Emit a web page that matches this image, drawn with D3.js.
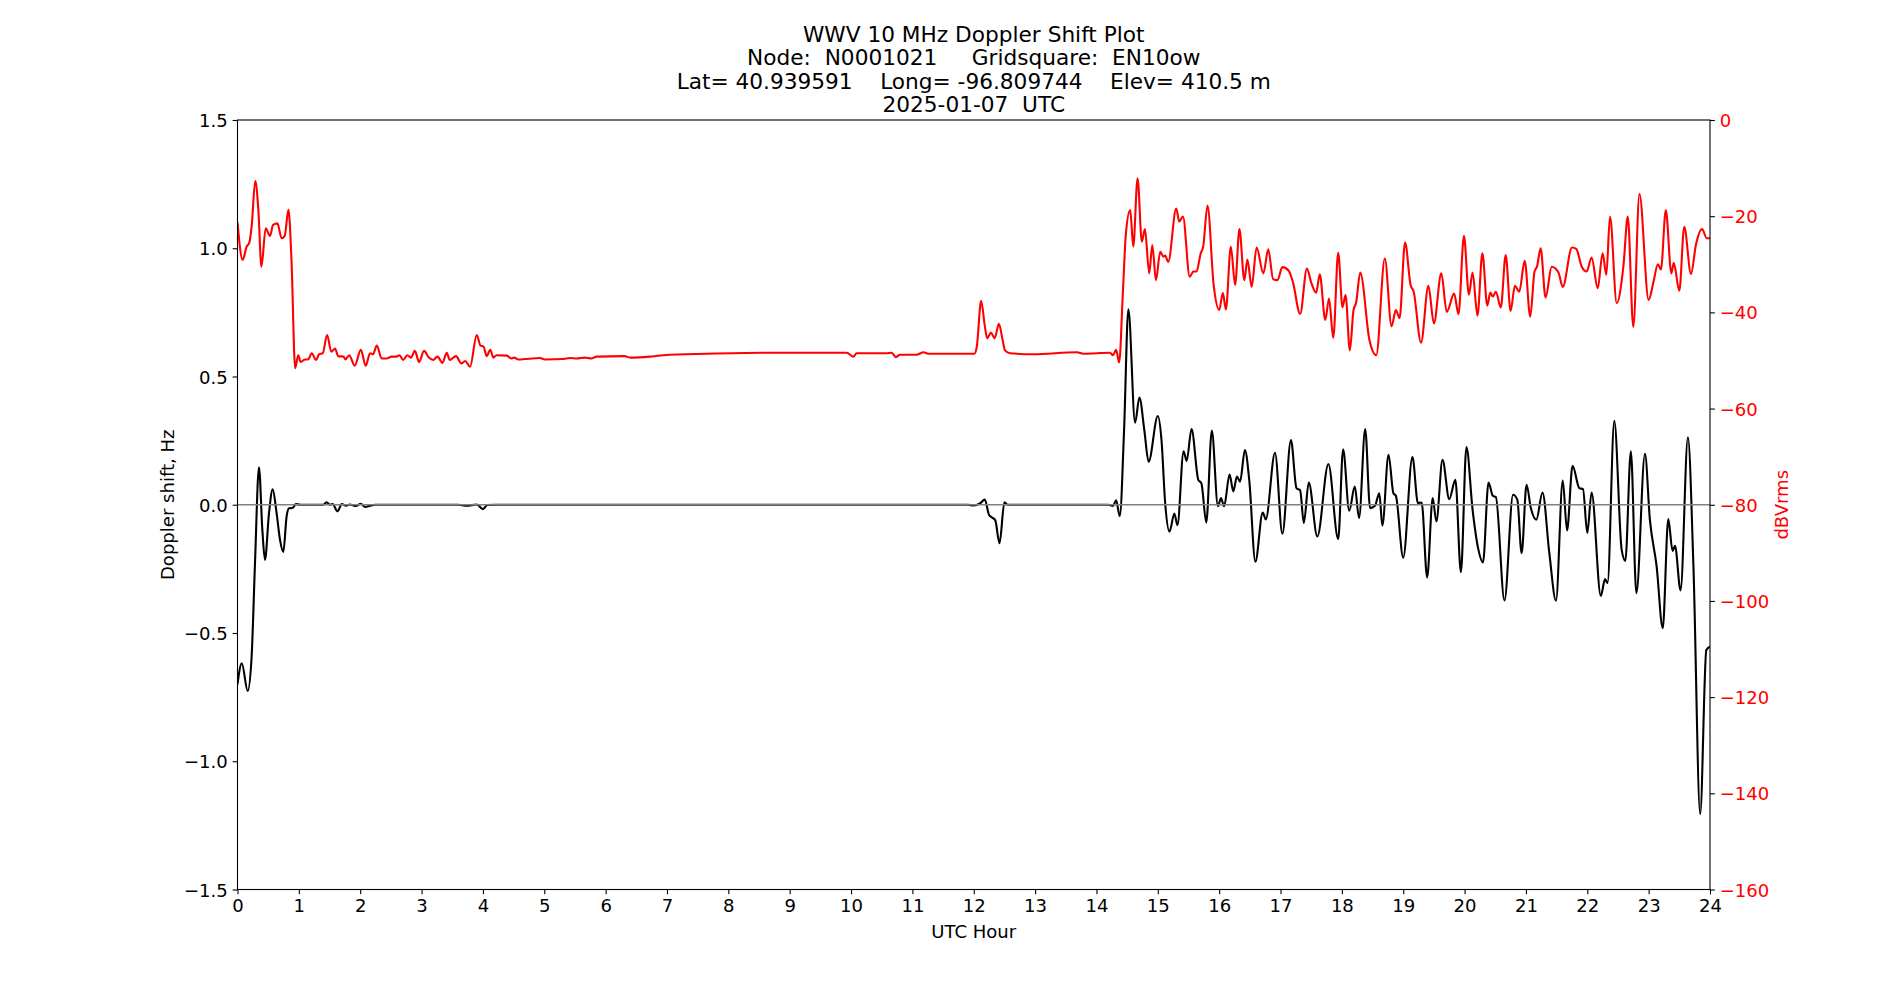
<!DOCTYPE html>
<html>
<head>
<meta charset="utf-8">
<script src="https://cdn.jsdelivr.net/npm/d3@7"></script>
<style>
  html, body { margin: 0; padding: 0; background: #fff; }
  svg { display: block; font-family: "DejaVu Sans", sans-serif; }
</style>
</head>
<body>
<svg id="chart" width="1900" height="1000"></svg>
<script>
// ---------------- data ----------------
const titleLines = [
  "WWV 10 MHz Doppler Shift Plot",
  "Node:  N0001021     Gridsquare:  EN10ow",
  "Lat= 40.939591    Long= -96.809744    Elev= 410.5 m",
  "2025-01-07  UTC"
];
const xTicks = d3.range(0, 25, 1);
const leftTicks = [-1.5, -1.0, -0.5, 0.0, 0.5, 1.0, 1.5];
const rightTicks = [0, -20, -40, -60, -80, -100, -120, -140, -160];

// Doppler shift (Hz) vs UTC hour
const dopplerHours = [0.0,0.07,0.166,0.23,0.285,0.35,0.405,0.448,0.513,0.573,0.638,0.693,0.747,0.80,0.84,0.90,0.953,1.02,
  1.40,1.45,1.51,1.55,1.63,1.70,1.77,1.83,1.93,2.01,2.08,2.16,2.24,3.6,3.73,3.90,4.0,4.07,4.2,
  11.9,12.0,12.1,12.18,12.25,12.3,12.35,12.42,12.5,12.55,
  14.19,14.27,14.32,14.38,14.45,14.52,14.63,14.70,14.78,14.85,15.00,15.06,15.12,15.19,15.27,15.32,15.42,15.47,15.55,
  15.66,15.71,15.79,15.88,15.98,16.03,16.08,16.17,16.23,16.29,16.34,16.42,16.49,16.59,16.71,16.76,16.91,17.03,17.17,
  17.26,17.32,17.38,17.46,17.60,17.78,17.94,18.02,18.12,18.21,18.28,18.38,18.46,18.54,18.61,18.66,18.76,18.84,18.88,
  19.0,19.15,19.24,19.30,19.39,19.48,19.54,19.64,19.75,19.85,19.94,20.03,20.13,20.22,20.30,20.39,20.46,20.51,20.65,
  20.79,20.86,20.93,21.01,21.08,21.17,21.27,21.38,21.49,21.60,21.67,21.76,21.87,21.93,22.0,22.07,22.22,22.29,22.33,
  22.44,22.56,22.62,22.71,22.80,22.94,23.02,23.13,23.23,23.32,23.39,23.43,23.52,23.64,23.73,23.84,23.94,24.0];
const dopplerHz = [-0.70,-0.618,-0.726,-0.593,-0.229,0.146,-0.098,-0.215,-0.034,0.060,-0.034,-0.137,-0.184,-0.046,-0.014,-0.012,0.003,0,
  0,0.01,0,0.003,-0.026,0.003,-0.004,0.001,-0.005,0.004,-0.009,-0.004,0,0,-0.004,0.001,-0.017,-0.001,0,
  0,-0.003,0.005,0.02,-0.04,-0.05,-0.06,-0.15,0.01,0,
  0,-0.005,0.017,-0.044,0.29,0.762,0.32,0.418,0.291,0.168,0.346,0.252,0.006,-0.105,-0.034,-0.08,0.208,0.171,0.295,
  0.097,0.084,-0.069,0.289,-0.006,0.026,-0.006,0.118,0.052,0.11,0.090,0.213,0.097,-0.222,-0.03,-0.057,0.203,-0.113,0.252,
  0.065,0.056,-0.071,0.087,-0.124,0.159,-0.134,0.216,-0.023,0.071,-0.052,0.295,-0.013,-0.004,0.045,-0.081,0.195,0.045,0.035,
  -0.206,0.186,0.006,0.009,-0.283,0.026,-0.065,0.175,0.022,0.097,-0.263,0.225,-0.019,-0.169,-0.225,0.087,0.035,0.03,-0.373,
  0.039,0.019,-0.189,0.078,-0.013,-0.058,0.048,-0.186,-0.374,0.094,-0.1,0.152,0.065,0.061,-0.11,0.048,-0.355,-0.29,-0.305,
  0.327,-0.175,-0.219,0.208,-0.345,0.199,-0.058,-0.24,-0.481,-0.056,-0.18,-0.16,-0.334,0.263,-0.24,-1.206,-0.566,-0.553];

// Signal level (dBVrms) vs UTC hour
const levelHours = [0.0,0.084,0.15,0.19,0.23,0.29,0.34,0.39,0.46,0.53,0.58,0.65,0.72,0.77,0.83,0.88,0.94,0.99,1.03,1.10,1.15,
  1.21,1.28,1.33,1.39,1.46,1.53,1.59,1.64,1.73,1.76,1.82,1.91,2.01,2.09,2.16,2.21,2.27,2.35,2.43,2.51,2.59,2.64,2.70,2.77,
  2.83,2.89,2.96,3.04,3.12,3.19,3.26,3.34,3.41,3.46,3.56,3.65,3.71,3.79,3.90,3.96,4.01,4.06,4.12,4.17,4.22,4.39,4.46,4.51,
  4.58,4.93,5.01,5.31,5.42,5.53,5.66,5.77,5.85,6.31,6.40,6.72,6.94,7.65,8.57,9.93,10.04,10.09,10.58,10.66,10.73,10.80,
  11.07,11.18,11.26,11.94,12.01,12.05,12.12,12.18,12.22,12.28,12.34,12.41,12.47,12.51,12.59,12.97,13.68,13.79,14.22,14.27,
  14.32,14.37,14.43,14.48,14.55,14.60,14.67,14.74,14.79,14.86,14.91,14.97,15.04,15.09,15.12,15.17,15.30,15.35,15.41,15.52,
  15.58,15.63,15.70,15.74,15.81,15.91,16.00,16.06,16.11,16.19,16.26,16.33,16.41,16.46,16.53,16.61,16.72,16.80,16.88,16.95,
  17.03,17.13,17.20,17.32,17.43,17.50,17.58,17.64,17.73,17.79,17.86,17.94,18.01,18.06,18.13,18.19,18.23,18.30,18.45,18.56,
  18.70,18.81,18.88,18.94,19.03,19.12,19.17,19.29,19.41,19.50,19.62,19.71,19.83,19.90,19.99,20.07,20.13,20.21,20.29,20.37,
  20.42,20.46,20.51,20.59,20.67,20.75,20.82,20.89,20.98,21.07,21.14,21.18,21.24,21.32,21.42,21.53,21.60,21.75,21.82,21.91,
  21.99,22.07,22.17,22.25,22.31,22.37,22.48,22.59,22.66,22.75,22.85,23.00,23.08,23.15,23.20,23.28,23.37,23.41,23.50,23.58,
  23.69,23.77,23.87,23.95,24.0];
const levelDb = [-21.3,-29.1,-26.3,-25.6,-22.2,-12.7,-18.7,-30.5,-22.5,-24.1,-21.8,-21.5,-24.6,-24.1,-18.6,-29.1,-51.6,-48.9,-50.3,-49.8,-49.8,
  -48.5,-49.9,-48.7,-48.5,-44.7,-48.2,-47.5,-49.1,-49.2,-49.8,-48.9,-51.1,-47.8,-51.1,-48.5,-48.7,-46.9,-49.6,-49.6,-49.2,-49.2,-48.9,-49.9,-48.9,
  -49.4,-48.0,-50.3,-48.0,-49.4,-49.9,-49.2,-50.5,-48.4,-49.9,-49.1,-50.6,-50.1,-51.3,-44.7,-46.9,-47.1,-49.1,-47.8,-49.4,-48.9,-49.0,-49.6,-49.4,
  -49.8,-49.5,-49.8,-49.7,-49.5,-49.6,-49.4,-49.6,-49.2,-49.1,-49.4,-49.2,-48.9,-48.6,-48.4,-48.4,-49.2,-48.5,-48.5,-48.4,-49.3,-48.8,
  -48.8,-48.3,-48.6,-48.6,-48.6,-47.1,-37.6,-42.8,-45.4,-44.2,-45.4,-42.4,-45.7,-47.9,-48.5,-48.7,-48.3,-48.6,-48.4,-48.9,
  -47.8,-50.4,-36.0,-23.6,-18.7,-26.3,-12.1,-25.3,-22.7,-31.9,-26.0,-33.3,-27.4,-28.4,-28.2,-29.5,-18.4,-21.1,-20.1,-32.6,
  -31.5,-31.5,-27.7,-26.3,-17.8,-34.3,-39.5,-36.0,-39.4,-26.3,-34.3,-22.7,-33.3,-29.0,-34.7,-26.5,-31.9,-26.9,-33.1,-33.3,
  -30.6,-31.3,-33.6,-40.3,-30.9,-33.8,-35.9,-32.1,-41.6,-37.1,-45.3,-27.6,-38.9,-36.4,-47.9,-39.5,-38.1,-31.7,-45.8,-48.9,
  -28.8,-42.9,-39.5,-41.2,-25.5,-34.3,-35.7,-46.3,-34.5,-42.3,-31.9,-39.9,-36.1,-40.4,-24.1,-36.3,-31.7,-40.7,-27.7,-38.6,
  -35.9,-36.7,-35.7,-39.0,-28.1,-39.7,-34.5,-35.7,-29.3,-40.9,-31.5,-30.5,-26.7,-36.9,-30.5,-31.7,-34.7,-26.5,-26.8,-30.5,
  -31.5,-28.6,-35.0,-27.7,-32.2,-20.1,-38.1,-30.2,-20.1,-43.0,-15.4,-37.4,-33.6,-30.0,-31.1,-18.7,-31.9,-29.7,-35.5,-22.2,
  -32.0,-26.0,-22.7,-24.6,-24.6];

// ---------------- layout ----------------
const W = 1900, H = 1000;
const M = { left: 237.5, right: 1710, top: 120, bottom: 889.5 };
const svg = d3.select("#chart");
const FONT = "DejaVu Sans, sans-serif";
const tickFs = 18.06, labelFs = 18.06, titleFs = 21.67;

const x = d3.scaleLinear().domain([0, 24]).range([M.left, M.right]);
const yL = d3.scaleLinear().domain([-1.5, 1.5]).range([M.bottom, M.top]);
const yR = d3.scaleLinear().domain([-160, 0]).range([M.bottom, M.top]);

const fmtMinus = s => s.replace("-", "\u2212");

// clip
svg.append("defs").append("clipPath").attr("id", "clip")
  .append("rect").attr("x", M.left).attr("y", M.top)
  .attr("width", M.right - M.left).attr("height", M.bottom - M.top);

const plot = svg.append("g").attr("clip-path", "url(#clip)");

const dopplerData = dopplerHours.map((h, i) => [h, dopplerHz[i]]);
const levelData = levelHours.map((h, i) => [h, levelDb[i]]);

// black doppler line
plot.append("path")
  .datum(dopplerData)
  .attr("fill", "none").attr("stroke", "#000").attr("stroke-width", 2.1)
  .attr("stroke-linejoin", "round")
  .attr("d", d3.line().x(d => x(d[0])).y(d => yL(d[1])).curve(d3.curveMonotoneX));

// zero reference line
plot.append("line")
  .attr("x1", M.left).attr("x2", M.right)
  .attr("y1", yL(0)).attr("y2", yL(0))
  .attr("stroke", "#808080").attr("stroke-width", 1.4);

// red level line
plot.append("path")
  .datum(levelData)
  .attr("fill", "none").attr("stroke", "#ff0000").attr("stroke-width", 2.1)
  .attr("stroke-linejoin", "round")
  .attr("d", d3.line().x(d => x(d[0])).y(d => yR(d[1])).curve(d3.curveMonotoneX));

// ---------------- axes ----------------
function styleAxis(g, color) {
  g.select(".domain").remove();
  g.selectAll(".tick line").attr("stroke", "#000").attr("stroke-width", 1.1);
  g.selectAll(".tick text").attr("font-family", FONT).attr("font-size", tickFs).attr("fill", color);
}

const xAxis = svg.append("g").attr("transform", `translate(0,${M.bottom})`)
  .call(d3.axisBottom(x).tickValues(xTicks).tickFormat(d3.format("d")).tickSize(4.86).tickPadding(4.86));
styleAxis(xAxis, "#000");

const yAxisL = svg.append("g").attr("transform", `translate(${M.left},0)`)
  .call(d3.axisLeft(yL).tickValues(leftTicks).tickFormat(d => fmtMinus(d3.format(".1f")(d))).tickSize(4.86).tickPadding(4.86));
styleAxis(yAxisL, "#000");
yAxisL.selectAll(".tick text").attr("dy", "0.36em");

const yAxisR = svg.append("g").attr("transform", `translate(${M.right},0)`)
  .call(d3.axisRight(yR).tickValues(rightTicks).tickFormat(d => fmtMinus(d3.format("d")(d))).tickSize(4.86).tickPadding(4.86));
styleAxis(yAxisR, "#ff0000");
yAxisR.selectAll(".tick text").attr("dy", "0.36em");

// spines
svg.append("rect").attr("x", M.left).attr("y", M.top)
  .attr("width", M.right - M.left).attr("height", M.bottom - M.top)
  .attr("fill", "none").attr("stroke", "#000").attr("stroke-width", 1.1);

// axis labels
svg.append("text").attr("x", (M.left + M.right) / 2).attr("y", 937.5)
  .attr("text-anchor", "middle").attr("font-family", FONT).attr("font-size", labelFs)
  .attr("fill", "#000").text("UTC Hour");

svg.append("text").attr("transform", `translate(173.5,${(M.top + M.bottom) / 2}) rotate(-90)`)
  .attr("text-anchor", "middle").attr("font-family", FONT).attr("font-size", labelFs)
  .attr("fill", "#000").text("Doppler shift, Hz");

svg.append("text").attr("transform", `translate(1788,${(M.top + M.bottom) / 2}) rotate(-90)`)
  .attr("text-anchor", "middle").attr("font-family", FONT).attr("font-size", labelFs)
  .attr("fill", "#ff0000").text("dBVrms");

// title
const titleBase = [42.0, 65.3, 88.6, 111.9];
titleLines.forEach((t, i) => {
  svg.append("text").attr("x", (M.left + M.right) / 2).attr("y", titleBase[i])
    .attr("text-anchor", "middle").attr("font-family", FONT).attr("font-size", titleFs)
    .attr("fill", "#000").attr("xml:space", "preserve").style("white-space", "pre").text(t);
});
</script>
</body>
</html>
